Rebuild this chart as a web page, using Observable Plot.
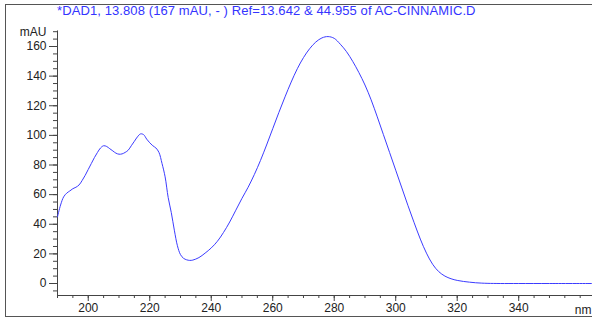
<!DOCTYPE html>
<html><head><meta charset="utf-8">
<script src="https://cdn.jsdelivr.net/npm/d3@7"></script>
<script src="https://cdn.jsdelivr.net/npm/@observablehq/plot@0.6"></script>
<style>
body{margin:0;background:#fff;}
#wrap{position:relative;width:592px;height:323px;overflow:hidden;font-family:"Liberation Sans",Arial,sans-serif;}
#frame{position:absolute;left:5px;top:4px;width:620px;height:313px;border:1px solid #555;box-sizing:border-box;}
#title{position:absolute;left:57px;top:4px;font-size:13px;line-height:14px;letter-spacing:0.1px;color:#3434ff;white-space:nowrap;}
#chart{position:absolute;left:0;top:0;}
</style>
</head><body>
<div id="wrap"><div id="frame"></div><div id="title"></div><div id="chart"></div></div>
<script>
const titleText = "*DAD1, 13.808 (167 mAU, - ) Ref=13.642 & 44.955 of AC-CINNAMIC.D";
const yUnit = "mAU";
const xUnit = "nm";
const wavelength = [190,191,192,193,194,195,196,197,198,199,200,201,202,203,204,205,206,207,208,209,210,211,212,213,214,215,216,217,218,219,220,221,222,223,224,225,226,227,228,229,230,231,232,233,234,236,238,240,242,244,246,248,250,252,254,256,258,260,262,264,266,268,270,272,274,276,278,280,282,284,286,288,290,292,294,296,298,300,302,304,306,308,310,312,314,316,318,320,322,324,326,328,330,334,340,350,364];
const absorbance = [45,53,58.5,61,62.5,64,65,66.5,69.5,73,77,81,85,88.5,91.5,93,92.5,91,89.5,88,87.3,87.5,88.5,90,93,96,99,101,100.5,97.5,95,93,91.5,88.5,81,72,58,48,36,25.5,19.5,17,16,15.6,15.8,17.5,20.5,24,28.5,34.5,41.5,49.5,57.5,65,73.5,83,93.5,104.5,115.5,126,136,145,152.5,158.5,163,165.8,166.7,165.5,161.5,156.5,150,142.5,134,124,112.5,100.5,88.5,76.5,64.5,52.5,41,30,20.5,13,8,5,3.2,2.1,1.4,0.9,0.5,0.25,0.1,0,0,0,0];
const xMajor = [200,220,240,260,280,300,320,340];
const xMinor = d3.range(190, 364, 5);
const yMajor = [0,20,40,60,80,100,120,140,160];
const yMinor = d3.range(-5, 171, 5);

document.getElementById("title").textContent = titleText;
const data = wavelength.map((w, i) => ({w, a: absorbance[i]}));

const axisColor = "#444";
const chart = Plot.plot({
  width: 592, height: 323,
  marginLeft: 57, marginRight: 0, marginTop: 30.45, marginBottom: 28,
  style: {fontFamily: "'Liberation Sans', Arial, sans-serif", fontSize: "12px", background: "transparent", color: "#222"},
  x: {domain: [190, 364], axis: null},
  y: {domain: [-8.1, 170.5], axis: null},
  marks: [
    Plot.ruleX([190], {stroke: axisColor}),
    Plot.ruleY([-8.1], {stroke: axisColor}),
    Plot.axisX({ticks: xMinor, tickSize: 3, tickFormat: () => "", label: null, stroke: axisColor}),
    Plot.axisX({ticks: xMajor, tickSize: 6, tickPadding: 2, tickFormat: d => d, label: null, stroke: axisColor, fill: "#222", fontSize: 12}),
    Plot.axisY({ticks: yMinor, tickSize: 4, tickFormat: () => "", label: null, stroke: axisColor}),
    Plot.axisY({ticks: yMajor, tickSize: 8, tickPadding: 3, tickFormat: d => d, label: null, stroke: axisColor, fill: "#222", fontSize: 12}),
    Plot.text([yUnit], {frameAnchor: "top-left", dx: -11, dy: 1.5, textAnchor: "end", lineAnchor: "middle", fill: "#222", fontSize: 12}),
    Plot.text([xUnit], {frameAnchor: "bottom-right", dx: -1, dy: 15, textAnchor: "end", lineAnchor: "middle", fill: "#222", fontSize: 12}),
    Plot.line(data, {x: "w", y: "a", stroke: "#3c3cff", strokeWidth: 1, curve: "catmull-rom"})
  ]
});
document.getElementById("chart").appendChild(chart);
</script>
</body></html>
